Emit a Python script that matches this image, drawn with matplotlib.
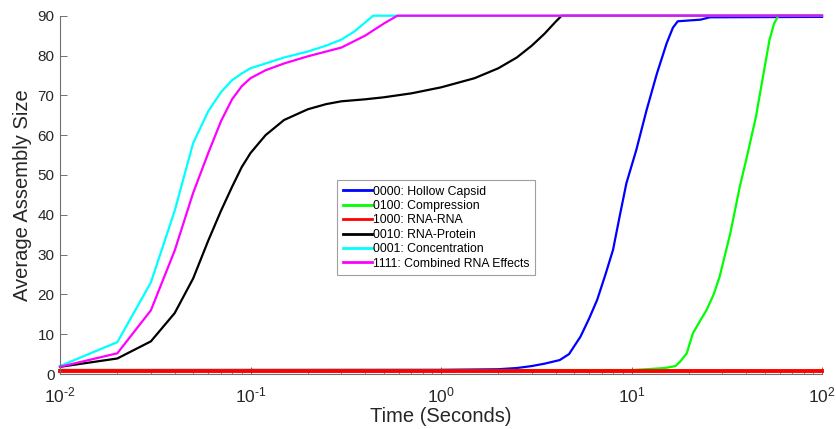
import numpy as np
import matplotlib
matplotlib.use("Agg")
import matplotlib.pyplot as plt
from matplotlib.ticker import FuncFormatter

plt.rcParams['font.family'] = ['Liberation Sans', 'DejaVu Sans']
plt.rcParams['mathtext.fontset'] = 'custom'
plt.rcParams['mathtext.rm'] = 'Liberation Sans'
plt.rcParams['mathtext.it'] = 'Liberation Sans'

# 0000: Hollow Capsid
t_hollow = [0.01, 1, 2, 2.5, 3, 3.5, 4.2, 4.7, 5.4, 6, 6.6, 7.3, 8, 8.7, 9.4, 10.6,
            12, 13.6, 15.3, 16.5, 17.5, 20, 23, 25.8, 100]
v_hollow = [1.0, 1.05, 1.2, 1.5, 2.0, 2.6, 3.5, 5.0, 9.4, 14, 18.6, 25, 31.2, 40, 47.9, 56.3,
            66.3, 75.5, 83.1, 87, 88.6, 88.8, 89.0, 89.6, 89.7]

# 0100: Compression
t_comp = [0.01, 10, 12, 15, 17, 18, 19.5, 21, 23, 24.8, 27, 29, 33, 37, 40, 45, 49, 53, 56, 59, 100]
v_comp = [1.0, 1.0, 1.2, 1.5, 2.0, 3.1, 5.2, 10.2, 13.5, 16.1, 20, 24.4, 35.3, 47, 53.8, 64.6,
          74.7, 83.9, 88, 90, 90]

# 1000: RNA-RNA
t_rna = [0.01, 100]
v_rna = [0.8, 0.8]

# 0010: RNA-Protein
t_prot = [0.01, 0.02, 0.03, 0.04, 0.05, 0.06, 0.07, 0.08, 0.09, 0.1, 0.12, 0.15, 0.2, 0.25,
          0.3, 0.4, 0.5, 0.7, 1, 1.5, 2, 2.5, 3, 3.5, 4, 4.3, 100]
v_prot = [1.8, 3.9, 8.2, 15.3, 24, 33.5, 41, 47, 52, 55.5, 60, 63.8, 66.5, 67.8,
          68.5, 69, 69.5, 70.5, 72, 74.3, 76.8, 79.5, 82.5, 85.5, 88.5, 90, 90]

# 0001: Concentration
t_conc = [0.01, 0.02, 0.03, 0.04, 0.05, 0.06, 0.07, 0.08, 0.09, 0.1, 0.12, 0.15, 0.2, 0.25,
          0.3, 0.35, 0.4, 0.44, 100]
v_conc = [2.0, 8, 23, 41, 58, 66, 70.8, 73.8, 75.5, 76.8, 78, 79.5, 81, 82.5,
          84, 86, 88.3, 90, 90]

# 1111: Combined RNA Effects
t_comb = [0.01, 0.02, 0.03, 0.04, 0.05, 0.06, 0.07, 0.08, 0.09, 0.1, 0.12, 0.15, 0.2, 0.3,
          0.4, 0.5, 0.59, 100]
v_comb = [1.8, 5.2, 16, 31, 45.5, 55.5, 63.5, 69, 72.3, 74.3, 76.3, 78, 79.8, 82,
          85, 88, 90, 90]

series = [
    (t_hollow, v_hollow, '#0000ff', '0000: Hollow Capsid'),
    (t_comp, v_comp, '#00ff00', '0100: Compression'),
    (t_rna, v_rna, '#ff0000', '1000: RNA-RNA'),
    (t_prot, v_prot, '#000000', '0010: RNA-Protein'),
    (t_conc, v_conc, '#00ffff', '0001: Concentration'),
    (t_comb, v_comb, '#ff00ff', '1111: Combined RNA Effects'),
]


def pow10(x, pos):
    e = int(round(np.log10(x)))
    if e < 0:
        return r'$10^{\text{-}%d}$' % (-e)
    return r'$10^{%d}$' % e


fig = plt.figure(figsize=(8.36, 4.29), dpi=100)
ax = fig.add_axes([60 / 836, 1 - 374 / 429, 762 / 836, 358.3 / 429])

for t, v, c, lab in series:
    lw = 2.8 if c == '#ff0000' else 1.6
    ax.plot(t, v, color=c, lw=lw, label=lab, clip_on=False)

ax.set_xscale('log')
ax.set_xlim(1e-2, 1e2)
ax.set_ylim(0, 90)
ax.set_yticks(np.arange(0, 91, 10))
ax.xaxis.set_major_formatter(FuncFormatter(pow10))

grey = '#262626'
for s in ['top', 'right']:
    ax.spines[s].set_visible(False)
for s in ['left', 'bottom']:
    ax.spines[s].set_color('#707070')
    ax.spines[s].set_linewidth(0.8)

ax.tick_params(which='major', direction='in', length=5, width=0.7, color='#707070',
               labelcolor=grey)
ax.tick_params(which='minor', direction='in', length=3, width=0.6, color='#707070')
ax.tick_params(axis='y', labelsize=11, pad=4)
ax.tick_params(axis='x', labelsize=12.5, pad=8)

ax.set_xlabel('Time (Seconds)', fontsize=14.5, color=grey, labelpad=1.5)
ax.set_ylabel('Average Assembly Size', fontsize=14.5, color=grey, labelpad=4)

leg = ax.legend(loc='upper left', bbox_to_anchor=(337 / 836, 1 - 180 / 429),
                bbox_transform=fig.transFigure, borderaxespad=0, fontsize=8.8,
                labelspacing=0.2, handlelength=2.4, handletextpad=0.1,
                borderpad=0.45, fancybox=False, framealpha=1)
leg.get_frame().set_edgecolor('#a0a0a0')
leg.get_frame().set_linewidth(0.8)
for line in leg.get_lines():
    line.set_linewidth(2)

fig.savefig('out.png', dpi=100)
